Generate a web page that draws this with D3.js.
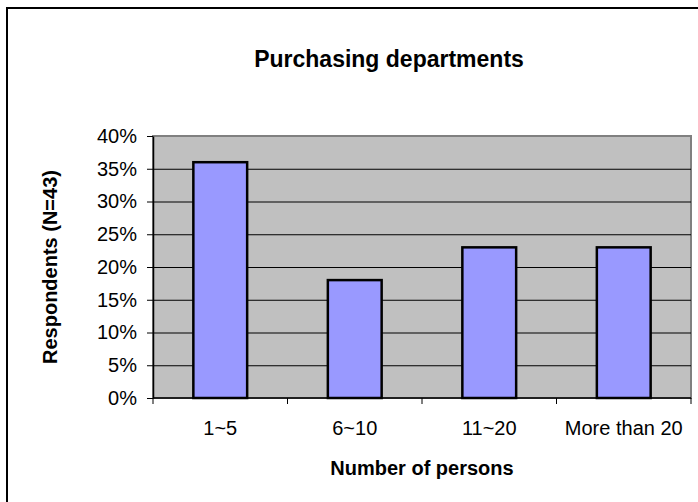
<!DOCTYPE html>
<html>
<head>
<meta charset="utf-8">
<script src="https://cdn.jsdelivr.net/npm/d3@7"></script>
<style>
  body { margin: 0; background: #fff; }
  text { font-family: "Liberation Sans", Arial, sans-serif; fill: #000; }
</style>
</head>
<body>
<div id="chart-area"></div>
<script>
// data
var categories = ["1~5", "6~10", "11~20", "More than 20"];
var shares = [0.36, 0.18, 0.23, 0.23];
var yTicks = [0, 0.05, 0.10, 0.15, 0.20, 0.25, 0.30, 0.35, 0.40];

var width = 698, height = 502;
var plot = { left: 153, top: 136, right: 691, bottom: 398 };

var svg = d3.select("#chart-area")
  .append("svg")
    .attr("width", width)
    .attr("height", height);

// outer chart border (runs off the right and bottom edges)
svg.append("rect")
  .attr("x", 7).attr("y", 8)
  .attr("width", 740).attr("height", 540)
  .attr("fill", "#fff")
  .attr("stroke", "#000")
  .attr("stroke-width", 2);

var x = d3.scaleBand()
  .domain(categories)
  .range([plot.left, plot.right])
  .paddingInner(0.6)
  .paddingOuter(0.3);

var y = d3.scaleLinear()
  .domain([0, 0.4])
  .range([plot.bottom, plot.top]);

// plot background
svg.append("rect")
  .attr("x", plot.left).attr("y", plot.top)
  .attr("width", plot.right - plot.left)
  .attr("height", plot.bottom - plot.top)
  .attr("fill", "#c0c0c0")
  .attr("stroke", "#808080")
  .attr("stroke-width", 2);

// gridlines
svg.append("g")
  .attr("transform", "translate(" + plot.left + ",0)")
  .call(d3.axisLeft(y).tickValues(yTicks.slice(1, -1)).tickSize(-(plot.right - plot.left)).tickFormat(""))
  .call(function(g) {
    g.select(".domain").remove();
    g.selectAll("line").attr("stroke", "#000").attr("stroke-width", 1);
  });

// bars
svg.selectAll("rect.bar")
  .data(shares)
  .enter()
  .append("rect")
    .attr("class", "bar")
    .attr("x", function(d, i) { return x(categories[i]); })
    .attr("y", function(d) { return y(d); })
    .attr("width", x.bandwidth())
    .attr("height", function(d) { return y(0) - y(d); })
    .attr("fill", "#9999ff")
    .attr("stroke", "#000")
    .attr("stroke-width", 2.5);

// y axis
svg.append("g")
  .attr("transform", "translate(" + plot.left + ",0)")
  .call(d3.axisLeft(y).tickValues(yTicks).tickSize(6).tickSizeOuter(0).tickPadding(10).tickFormat(d3.format(".0%")))
  .call(function(g) {
    g.select(".domain").attr("stroke", "#000").attr("stroke-width", 1.5);
    g.selectAll("line").attr("stroke", "#000");
    g.selectAll("text").style("font-size", "20px").attr("fill", "#000");
  });

// x axis: labels + ticks on category boundaries
var xAxis = svg.append("g")
  .attr("transform", "translate(0," + plot.bottom + ")");
xAxis.call(d3.axisBottom(x).tickSize(0).tickPadding(23))
  .call(function(g) {
    g.select(".domain").remove();
    g.selectAll("text").style("font-size", "20px").attr("fill", "#000");
  });
xAxis.append("line")
  .attr("x1", plot.left).attr("x2", plot.right)
  .attr("stroke", "#000").attr("stroke-width", 1.5);
xAxis.selectAll("line.bound")
  .data(d3.range(categories.length + 1))
  .enter()
  .append("line")
    .attr("class", "bound")
    .attr("x1", function(i) { return plot.left + i * x.step(); })
    .attr("x2", function(i) { return plot.left + i * x.step(); })
    .attr("y1", 0).attr("y2", 6)
    .attr("stroke", "#000");

// titles
svg.append("text")
  .attr("x", 389).attr("y", 67)
  .attr("text-anchor", "middle")
  .style("font-size", "23px").style("font-weight", "bold")
  .text("Purchasing departments");

svg.append("text")
  .attr("x", (plot.left + plot.right) / 2).attr("y", 475)
  .attr("text-anchor", "middle")
  .style("font-size", "20px").style("font-weight", "bold")
  .text("Number of persons");

svg.append("text")
  .attr("transform", "translate(57," + (plot.top + plot.bottom) / 2 + ") rotate(-90)")
  .attr("text-anchor", "middle")
  .style("font-size", "20px").style("font-weight", "bold")
  .text("Respondents (N=43)");
</script>
</body>
</html>
